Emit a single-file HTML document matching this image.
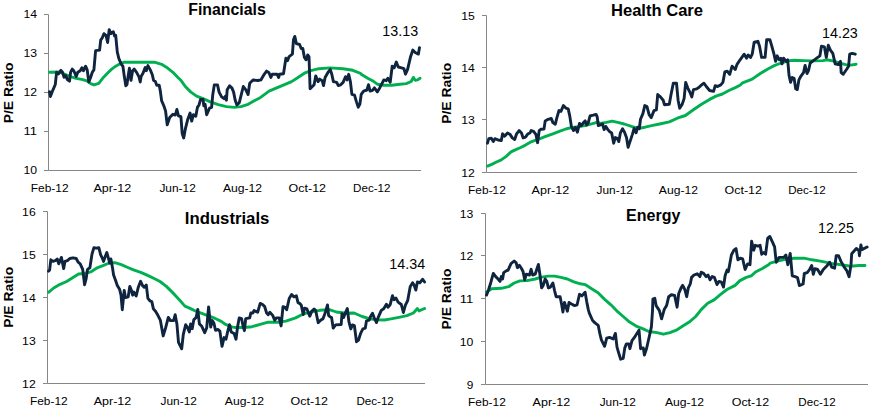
<!DOCTYPE html>
<html><head><meta charset="utf-8"><title>P/E Ratios</title>
<style>html,body{margin:0;padding:0;background:#fff;}svg{display:block;}text{font-family:"Liberation Sans", sans-serif;fill:#000;}</style></head><body>
<svg width="869" height="412" viewBox="0 0 869 412">
<rect x="0" y="0" width="869" height="412" fill="#ffffff"/>
<g>
<path d="M48.5 14.5V170.5H421.0" fill="none" stroke="#868686" stroke-width="1"/>
<path d="M44.0 14.5H48.5" stroke="#868686" stroke-width="1"/>
<text x="37.0" y="18.0" font-size="11.5" text-anchor="end" textLength="13.6" lengthAdjust="spacingAndGlyphs">14</text>
<path d="M44.0 53.5H48.5" stroke="#868686" stroke-width="1"/>
<text x="37.0" y="57.0" font-size="11.5" text-anchor="end" textLength="13.6" lengthAdjust="spacingAndGlyphs">13</text>
<path d="M44.0 92.5H48.5" stroke="#868686" stroke-width="1"/>
<text x="37.0" y="96.0" font-size="11.5" text-anchor="end" textLength="13.6" lengthAdjust="spacingAndGlyphs">12</text>
<path d="M44.0 131.5H48.5" stroke="#868686" stroke-width="1"/>
<text x="37.0" y="135.0" font-size="11.5" text-anchor="end" textLength="13.6" lengthAdjust="spacingAndGlyphs">11</text>
<path d="M44.0 170.5H48.5" stroke="#868686" stroke-width="1"/>
<text x="37.0" y="174.0" font-size="11.5" text-anchor="end" textLength="13.6" lengthAdjust="spacingAndGlyphs">10</text>
<text x="49.7" y="191.7" font-size="11.5" text-anchor="middle" textLength="37.7" lengthAdjust="spacingAndGlyphs">Feb-12</text>
<text x="112.3" y="191.7" font-size="11.5" text-anchor="middle" textLength="37.7" lengthAdjust="spacingAndGlyphs">Apr-12</text>
<text x="177.6" y="191.7" font-size="11.5" text-anchor="middle" textLength="36.3" lengthAdjust="spacingAndGlyphs">Jun-12</text>
<text x="242.5" y="191.7" font-size="11.5" text-anchor="middle" textLength="39.2" lengthAdjust="spacingAndGlyphs">Aug-12</text>
<text x="307.3" y="191.7" font-size="11.5" text-anchor="middle" textLength="37.4" lengthAdjust="spacingAndGlyphs">Oct-12</text>
<text x="371.8" y="191.7" font-size="11.5" text-anchor="middle" textLength="37.4" lengthAdjust="spacingAndGlyphs">Dec-12</text>
<text x="227.0" y="14.7" font-size="16" font-weight="bold" text-anchor="middle" textLength="77.5" lengthAdjust="spacingAndGlyphs">Financials</text>
<text transform="translate(13.2 92.9) rotate(-90)" font-size="13.5" font-weight="bold" text-anchor="middle" textLength="60.9" lengthAdjust="spacingAndGlyphs">P/E Ratio</text>
<text x="400.2" y="36.0" font-size="13.9" text-anchor="middle" textLength="35.8" lengthAdjust="spacingAndGlyphs">13.13</text>
<polyline points="49.5,72.3 59.3,72.0 69.8,76.4 76.2,78.3 82.7,79.6 87.5,81.2 90.7,83.6 93.9,84.9 98.8,83.3 103.6,77.2 108.4,72.3 111.7,69.1 115.7,66.2 120.5,63.5 124.6,62.2 140.7,62.2 155.2,62.3 161.6,64.3 166.4,67.2 172.9,72.3 177.7,77.2 181.3,80.8 185.3,86.5 190.9,92.1 196.6,96.1 203.0,98.6 210.3,101.8 218.3,104.7 226.4,106.6 234.4,107.4 240.9,106.6 247.3,104.7 253.8,101.0 260.2,97.7 266.7,92.9 269.0,91.2 280.3,86.4 291.6,81.6 298.0,77.5 304.4,73.2 310.9,70.6 318.9,68.7 330.2,67.9 343.1,68.7 352.8,70.3 360.8,73.5 361.2,74.2 367.7,78.2 372.5,80.7 377.3,84.2 383.8,85.2 391.8,85.2 399.9,84.2 406.3,83.6 411.2,81.5 413.3,77.4 415.2,80.3 417.6,79.9 420.0,78.2" fill="none" stroke="#00B050" stroke-width="2.9" stroke-linejoin="round" stroke-linecap="round"/>
<polyline points="49.5,91.7 50.4,96.6 52.9,90.1 55.3,84.5 56.6,72.4 56.6,72.3 58.5,73.9 60.9,70.4 62.5,72.3 64.1,77.2 65.7,75.6 67.4,79.6 69.5,81.2 70.6,72.3 72.2,69.1 73.8,70.7 76.2,76.4 77.8,72.3 80.2,70.7 81.9,67.8 83.5,70.7 85.6,66.2 87.2,69.9 88.8,82.0 90.7,77.2 92.3,72.3 93.9,69.9 95.6,50.6 99.6,50.1 100.7,40.1 102.3,37.7 103.9,33.7 106.0,35.3 107.6,42.5 109.2,29.6 110.9,33.7 113.3,31.7 114.6,36.1 115.7,35.3 117.3,52.2 118.9,58.6 121.3,64.3 122.9,66.2 124.2,75.6 125.8,85.7 127.0,84.4 128.1,76.4 129.4,68.3 131.0,80.4 132.6,70.7 134.2,69.1 136.6,72.3 139.1,77.2 140.2,82.0 141.1,76.4 143.1,73.1 145.2,67.5 146.3,70.7 147.9,65.6 150.3,69.9 152.3,74.7 153.6,80.5 155.2,81.3 156.8,85.3 159.2,85.3 160.3,90.9 161.6,100.6 164.0,106.2 165.6,111.1 167.2,124.8 169.7,117.5 172.9,114.3 175.3,115.1 176.9,109.5 178.5,115.9 180.9,116.7 182.2,133.6 183.7,138.0 185.3,129.2 187.7,119.5 190.1,113.1 191.7,121.1 193.4,114.7 195.8,116.3 197.4,107.4 199.0,105.0 200.6,99.4 203.0,99.4 203.8,105.8 205.1,104.2 206.7,114.7 209.5,108.2 211.6,107.4 212.7,95.3 214.3,84.9 217.5,84.9 219.1,92.1 221.6,96.9 224.0,98.6 225.6,96.1 226.4,100.2 227.2,89.7 229.6,85.7 232.0,88.1 233.6,92.1 235.2,100.2 236.9,105.0 239.3,102.6 240.9,96.1 243.3,86.5 245.7,89.7 248.1,94.5 249.7,83.2 253.0,80.0 257.8,80.5 260.9,79.9 264.2,74.3 266.6,71.1 269.0,72.7 270.9,77.5 272.2,74.3 277.1,74.3 278.7,77.5 279.5,74.3 283.5,73.8 285.9,58.2 287.5,60.6 289.1,56.6 292.4,54.2 293.5,39.7 294.8,36.4 296.4,43.7 299.6,44.5 301.2,48.5 302.8,48.5 304.4,57.4 306.1,59.8 307.7,55.0 309.0,56.6 310.1,88.8 314.1,84.8 315.7,75.9 318.1,81.6 319.7,79.1 322.2,80.7 323.5,85.6 325.1,77.5 327.8,72.7 330.2,69.5 331.8,74.3 333.4,81.6 336.7,82.4 338.3,85.6 340.7,84.8 343.1,82.4 345.5,76.7 347.1,79.9 348.7,74.3 350.4,81.6 351.9,94.4 354.5,95.2 356.4,101.6 358.3,107.2 359.9,104.0 361.2,94.4 363.6,91.1 366.9,90.0 368.5,84.7 370.1,91.1 372.5,90.3 374.4,87.9 377.3,91.9 379.7,87.9 382.2,83.1 383.8,79.9 386.2,80.7 387.8,78.2 390.2,82.3 392.2,66.2 394.2,67.8 396.3,62.1 398.3,67.0 401.5,67.8 403.9,68.6 405.5,74.2 407.6,69.4 410.4,57.3 412.8,50.1 415.2,52.5 418.4,54.1 419.5,47.6" fill="none" stroke="#0F243E" stroke-width="2.9" stroke-linejoin="round" stroke-linecap="round"/>
</g>
<g>
<path d="M486.5 15.5V172.5H857.0" fill="none" stroke="#868686" stroke-width="1"/>
<path d="M482.0 15.5H486.5" stroke="#868686" stroke-width="1"/>
<text x="474.8" y="19.8" font-size="11.5" text-anchor="end" textLength="13.6" lengthAdjust="spacingAndGlyphs">15</text>
<path d="M482.0 67.5H486.5" stroke="#868686" stroke-width="1"/>
<text x="474.8" y="71.8" font-size="11.5" text-anchor="end" textLength="13.6" lengthAdjust="spacingAndGlyphs">14</text>
<path d="M482.0 119.5H486.5" stroke="#868686" stroke-width="1"/>
<text x="474.8" y="123.8" font-size="11.5" text-anchor="end" textLength="13.6" lengthAdjust="spacingAndGlyphs">13</text>
<path d="M482.0 172.5H486.5" stroke="#868686" stroke-width="1"/>
<text x="474.8" y="176.8" font-size="11.5" text-anchor="end" textLength="13.6" lengthAdjust="spacingAndGlyphs">12</text>
<text x="486.9" y="193.8" font-size="11.5" text-anchor="middle" textLength="37.7" lengthAdjust="spacingAndGlyphs">Feb-12</text>
<text x="550.4" y="193.8" font-size="11.5" text-anchor="middle" textLength="37.7" lengthAdjust="spacingAndGlyphs">Apr-12</text>
<text x="614.7" y="193.8" font-size="11.5" text-anchor="middle" textLength="36.3" lengthAdjust="spacingAndGlyphs">Jun-12</text>
<text x="678.4" y="193.8" font-size="11.5" text-anchor="middle" textLength="39.2" lengthAdjust="spacingAndGlyphs">Aug-12</text>
<text x="743.2" y="193.8" font-size="11.5" text-anchor="middle" textLength="37.4" lengthAdjust="spacingAndGlyphs">Oct-12</text>
<text x="806.9" y="193.8" font-size="11.5" text-anchor="middle" textLength="37.4" lengthAdjust="spacingAndGlyphs">Dec-12</text>
<text x="657.0" y="15.5" font-size="16" font-weight="bold" text-anchor="middle" textLength="92.0" lengthAdjust="spacingAndGlyphs">Health Care</text>
<text transform="translate(451.2 93.3) rotate(-90)" font-size="13.5" font-weight="bold" text-anchor="middle" textLength="60.9" lengthAdjust="spacingAndGlyphs">P/E Ratio</text>
<text x="839.9" y="37.9" font-size="13.9" text-anchor="middle" textLength="35.8" lengthAdjust="spacingAndGlyphs">14.23</text>
<polyline points="487.5,166.1 491.7,164.4 496.5,162.0 501.3,159.9 506.2,156.4 511.0,151.9 515.8,149.6 520.7,147.5 525.5,145.1 530.3,142.2 535.2,140.3 540.0,138.7 546.4,136.2 552.9,133.8 559.3,131.4 565.8,129.0 572.2,127.4 578.7,126.6 585.1,125.5 591.6,123.8 598.0,122.2 600.0,123.5 606.4,122.4 612.1,121.1 617.7,122.4 624.2,124.0 632.2,126.7 638.7,128.4 645.1,127.2 651.6,125.6 659.6,124.0 669.3,121.9 677.3,118.2 685.4,115.5 693.4,109.8 701.5,104.2 709.6,99.4 716.0,96.1 722.4,94.0 728.9,90.5 735.3,87.6 740.0,85.3 742.6,82.8 752.2,79.1 760.3,73.5 768.3,68.7 774.8,65.4 781.2,63.0 787.7,60.9 794.1,60.3 803.8,60.6 813.4,60.9 823.1,60.6 826.3,59.8 832.8,60.9 839.2,63.0 845.7,64.6 850.5,65.1 856.1,64.2" fill="none" stroke="#00B050" stroke-width="2.9" stroke-linejoin="round" stroke-linecap="round"/>
<polyline points="487.5,143.2 488.8,138.7 491.3,138.3 493.3,141.6 494.9,138.7 498.1,140.0 501.3,140.6 502.6,133.8 504.6,136.2 507.5,133.0 510.2,134.6 512.3,137.9 514.7,139.5 516.6,133.8 519.1,130.6 521.5,133.0 523.1,137.9 525.5,137.1 527.9,133.8 530.0,133.0 531.1,130.6 533.6,131.4 536.0,134.6 537.6,142.7 539.2,130.6 540.8,129.3 544.0,129.0 545.2,120.9 548.1,119.3 551.3,118.5 552.9,122.6 555.3,124.2 556.9,117.7 559.0,110.5 560.9,111.3 563.4,105.6 565.8,108.1 568.2,108.9 569.8,116.1 571.4,126.6 573.5,130.6 575.4,127.4 577.4,132.2 579.5,123.4 581.1,125.8 583.5,122.6 585.1,120.9 586.7,125.0 588.3,122.6 590.0,116.0 593.2,115.2 596.1,114.4 597.2,116.8 598.3,125.6 600.4,124.8 602.5,124.0 604.1,129.6 605.7,126.4 607.9,129.6 610.0,132.0 611.6,132.8 613.7,143.2 615.3,137.6 617.2,138.4 618.8,141.6 620.4,132.8 622.5,128.8 624.4,132.0 626.5,137.6 628.1,147.3 630.0,141.6 632.4,134.4 634.1,128.5 636.1,132.8 637.7,127.2 639.3,128.8 640.5,119.2 642.9,113.6 644.8,105.6 647.0,106.6 649.1,114.7 651.2,117.6 654.0,110.6 656.4,109.8 657.7,94.5 660.4,96.9 663.2,100.2 664.4,104.7 669.3,104.2 670.9,95.3 673.3,83.2 676.5,83.2 678.1,100.2 679.7,108.2 682.2,104.2 684.1,98.6 685.7,82.4 687.8,88.1 690.2,92.9 691.8,96.9 693.4,89.7 696.7,88.9 699.1,87.3 700.7,85.7 703.9,83.2 706.3,86.5 709.6,90.5 713.6,91.3 715.2,85.7 717.6,86.5 720.8,84.9 722.9,82.4 724.8,71.9 727.2,71.1 729.7,74.3 732.1,66.2 735.3,69.5 736.9,64.6 740.1,59.8 744.2,54.2 746.6,58.2 748.2,55.0 750.6,57.4 752.2,54.2 754.2,42.1 757.9,41.3 759.5,46.1 761.6,57.4 765.1,57.4 766.7,39.7 769.9,39.7 771.6,45.3 774.0,54.2 775.6,61.4 777.2,55.8 779.3,59.8 780.9,58.2 782.0,63.8 783.6,58.2 786.1,61.4 787.7,59.8 789.0,75.1 790.6,82.4 792.2,77.5 794.1,78.3 795.7,88.8 797.3,89.6 798.9,79.9 800.6,76.7 803.5,72.7 805.1,65.4 807.0,73.5 808.6,70.3 810.2,63.0 813.4,60.6 816.7,58.2 819.9,55.8 821.5,46.1 824.4,46.9 826.3,57.4 828.3,45.3 830.4,50.1 832.8,53.4 835.2,63.8 838.4,64.6 840.5,61.4 841.2,72.7 843.2,74.3 846.5,69.5 848.6,66.2 849.7,54.2 852.1,53.4 855.3,54.2" fill="none" stroke="#0F243E" stroke-width="2.9" stroke-linejoin="round" stroke-linecap="round"/>
</g>
<g>
<path d="M47.5 211.5V383.5H425.0" fill="none" stroke="#868686" stroke-width="1"/>
<path d="M43.0 211.5H47.5" stroke="#868686" stroke-width="1"/>
<text x="35.7" y="215.8" font-size="11.5" text-anchor="end" textLength="13.6" lengthAdjust="spacingAndGlyphs">16</text>
<path d="M43.0 254.5H47.5" stroke="#868686" stroke-width="1"/>
<text x="35.7" y="258.8" font-size="11.5" text-anchor="end" textLength="13.6" lengthAdjust="spacingAndGlyphs">15</text>
<path d="M43.0 297.5H47.5" stroke="#868686" stroke-width="1"/>
<text x="35.7" y="301.8" font-size="11.5" text-anchor="end" textLength="13.6" lengthAdjust="spacingAndGlyphs">14</text>
<path d="M43.0 340.5H47.5" stroke="#868686" stroke-width="1"/>
<text x="35.7" y="344.8" font-size="11.5" text-anchor="end" textLength="13.6" lengthAdjust="spacingAndGlyphs">13</text>
<path d="M43.0 383.5H47.5" stroke="#868686" stroke-width="1"/>
<text x="35.7" y="387.8" font-size="11.5" text-anchor="end" textLength="13.6" lengthAdjust="spacingAndGlyphs">12</text>
<text x="48.8" y="404.8" font-size="11.5" text-anchor="middle" textLength="37.7" lengthAdjust="spacingAndGlyphs">Feb-12</text>
<text x="112.5" y="404.8" font-size="11.5" text-anchor="middle" textLength="37.7" lengthAdjust="spacingAndGlyphs">Apr-12</text>
<text x="178.7" y="404.8" font-size="11.5" text-anchor="middle" textLength="36.3" lengthAdjust="spacingAndGlyphs">Jun-12</text>
<text x="244.4" y="404.8" font-size="11.5" text-anchor="middle" textLength="39.2" lengthAdjust="spacingAndGlyphs">Aug-12</text>
<text x="309.3" y="404.8" font-size="11.5" text-anchor="middle" textLength="37.4" lengthAdjust="spacingAndGlyphs">Oct-12</text>
<text x="375.1" y="404.8" font-size="11.5" text-anchor="middle" textLength="37.4" lengthAdjust="spacingAndGlyphs">Dec-12</text>
<text x="227.1" y="223.6" font-size="16" font-weight="bold" text-anchor="middle" textLength="84.5" lengthAdjust="spacingAndGlyphs">Industrials</text>
<text transform="translate(13.2 297.3) rotate(-90)" font-size="13.5" font-weight="bold" text-anchor="middle" textLength="60.9" lengthAdjust="spacingAndGlyphs">P/E Ratio</text>
<text x="407.2" y="269.0" font-size="13.9" text-anchor="middle" textLength="35.8" lengthAdjust="spacingAndGlyphs">14.34</text>
<polyline points="48.5,292.3 53.7,288.0 60.1,284.3 66.6,281.5 73.0,277.5 78.6,274.0 84.3,273.5 90.7,271.9 97.2,267.8 103.6,265.4 109.2,263.0 114.9,262.7 121.3,264.6 127.8,267.5 134.2,270.2 140.7,272.3 147.1,275.1 153.6,278.3 160.0,281.5 166.4,286.4 174.4,294.4 179.3,299.7 184.9,306.1 190.6,308.6 195.4,311.0 201.8,313.4 208.3,315.8 214.7,318.2 221.2,321.4 226.0,324.7 232.4,327.1 236.0,327.5 244.1,327.5 252.1,326.7 260.2,324.3 268.2,322.2 277.9,322.2 285.9,321.1 295.6,317.9 303.7,313.8 311.7,311.9 319.8,310.3 327.8,309.8 330.0,309.8 336.4,312.0 346.0,313.3 354.0,313.0 362.1,316.5 370.1,318.9 376.5,319.7 384.5,320.0 390.9,318.9 398.9,317.3 406.9,315.7 413.4,313.0 417.4,308.5 419.0,310.9 424.6,308.5" fill="none" stroke="#00B050" stroke-width="2.9" stroke-linejoin="round" stroke-linecap="round"/>
<polyline points="48.5,271.1 49.6,270.2 50.8,259.8 52.9,261.4 55.3,260.6 57.2,259.0 58.8,263.8 60.1,260.6 61.4,257.4 63.7,268.6 64.9,261.4 67.4,260.6 69.8,258.5 73.0,257.8 76.2,258.5 78.2,262.2 80.2,263.8 82.7,269.4 84.6,284.7 86.2,278.3 87.5,269.4 89.9,267.8 92.0,254.1 93.9,247.7 96.4,248.2 98.8,247.7 100.7,254.9 102.3,258.2 103.6,261.4 105.2,256.6 106.8,252.5 108.4,258.2 109.7,263.0 110.9,259.0 112.5,267.8 113.6,275.1 115.7,280.7 117.3,285.6 119.7,289.6 121.0,295.2 122.3,309.7 124.2,290.4 125.5,297.6 128.2,296.8 129.8,286.4 131.4,290.4 132.6,295.2 133.8,292.0 136.2,296.0 138.3,287.2 140.6,281.3 142.6,285.6 144.2,287.2 146.3,285.1 147.9,298.4 149.9,300.8 151.8,301.6 153.4,308.9 155.5,311.3 157.9,315.3 160.3,320.1 163.2,335.9 165.6,327.9 168.3,317.4 170.4,320.6 173.6,320.6 175.2,314.7 176.9,323.9 178.5,342.4 181.7,348.8 183.3,334.3 185.7,324.7 187.3,327.1 189.3,331.9 190.6,323.9 192.2,328.7 193.8,319.8 196.2,317.4 197.8,309.4 199.4,323.9 201.8,326.3 204.7,332.7 206.7,327.9 208.6,306.9 210.7,327.1 212.3,320.6 213.9,323.1 215.5,330.3 217.9,329.5 219.9,331.1 222.0,346.4 224.1,337.6 226.0,339.2 227.6,331.9 229.5,324.7 231.2,331.9 234.1,333.5 236.0,339.2 237.6,326.7 239.2,317.9 241.6,318.7 243.2,326.7 244.4,330.7 245.7,318.7 249.7,317.9 250.8,313.0 252.9,313.0 254.0,310.6 257.7,312.2 260.2,303.4 262.6,304.5 264.7,306.6 266.6,313.0 268.2,314.6 269.8,312.2 272.7,315.4 274.7,320.3 276.3,317.9 279.2,317.9 281.1,325.9 283.0,306.6 285.1,307.4 286.7,309.8 289.2,298.5 291.6,294.5 294.0,296.9 296.4,295.8 298.0,302.6 299.6,303.4 301.2,305.0 303.3,314.6 304.5,308.2 306.9,309.0 309.8,316.2 311.7,311.4 314.1,309.0 315.7,310.6 318.2,322.7 320.6,320.3 323.0,318.7 325.4,312.2 327.5,305.0 328.6,315.4 330.0,316.8 331.6,317.6 333.2,328.1 335.6,324.9 341.2,324.5 342.0,313.6 343.6,317.6 345.7,312.0 347.3,308.5 348.9,321.6 350.8,328.9 352.4,324.9 354.4,325.7 356.5,341.7 358.5,340.1 360.5,333.7 362.9,328.9 365.3,328.1 366.5,320.8 369.3,320.0 370.4,316.8 372.5,313.3 374.1,317.6 376.5,322.5 378.1,317.6 381.3,310.4 383.7,308.8 386.4,304.3 388.0,307.2 390.1,304.8 392.5,295.7 394.1,299.7 396.0,298.1 398.1,302.1 401.3,304.5 403.4,312.5 405.3,305.3 407.7,300.5 410.2,286.8 412.6,282.8 414.2,285.2 415.8,290.1 417.4,282.0 419.8,282.8 422.7,279.3 424.6,282.0" fill="none" stroke="#0F243E" stroke-width="2.9" stroke-linejoin="round" stroke-linecap="round"/>
</g>
<g>
<path d="M485.5 213.5V384.5H868.0" fill="none" stroke="#868686" stroke-width="1"/>
<path d="M481.0 213.5H485.5" stroke="#868686" stroke-width="1"/>
<text x="473.3" y="217.8" font-size="11.5" text-anchor="end" textLength="13.6" lengthAdjust="spacingAndGlyphs">13</text>
<path d="M481.0 255.5H485.5" stroke="#868686" stroke-width="1"/>
<text x="473.3" y="259.8" font-size="11.5" text-anchor="end" textLength="13.6" lengthAdjust="spacingAndGlyphs">12</text>
<path d="M481.0 298.5H485.5" stroke="#868686" stroke-width="1"/>
<text x="473.3" y="302.8" font-size="11.5" text-anchor="end" textLength="13.6" lengthAdjust="spacingAndGlyphs">11</text>
<path d="M481.0 341.5H485.5" stroke="#868686" stroke-width="1"/>
<text x="473.3" y="345.8" font-size="11.5" text-anchor="end" textLength="13.6" lengthAdjust="spacingAndGlyphs">10</text>
<path d="M481.0 384.5H485.5" stroke="#868686" stroke-width="1"/>
<text x="473.3" y="388.8" font-size="11.5" text-anchor="end" textLength="6.6" lengthAdjust="spacingAndGlyphs">9</text>
<text x="486.9" y="405.9" font-size="11.5" text-anchor="middle" textLength="37.7" lengthAdjust="spacingAndGlyphs">Feb-12</text>
<text x="551.4" y="405.9" font-size="11.5" text-anchor="middle" textLength="37.7" lengthAdjust="spacingAndGlyphs">Apr-12</text>
<text x="617.8" y="405.9" font-size="11.5" text-anchor="middle" textLength="36.3" lengthAdjust="spacingAndGlyphs">Jun-12</text>
<text x="684.5" y="405.9" font-size="11.5" text-anchor="middle" textLength="39.2" lengthAdjust="spacingAndGlyphs">Aug-12</text>
<text x="750.4" y="405.9" font-size="11.5" text-anchor="middle" textLength="37.4" lengthAdjust="spacingAndGlyphs">Oct-12</text>
<text x="817.0" y="405.9" font-size="11.5" text-anchor="middle" textLength="37.4" lengthAdjust="spacingAndGlyphs">Dec-12</text>
<text x="653.2" y="220.7" font-size="16" font-weight="bold" text-anchor="middle" textLength="54.2" lengthAdjust="spacingAndGlyphs">Energy</text>
<text transform="translate(450.7 299.0) rotate(-90)" font-size="13.5" font-weight="bold" text-anchor="middle" textLength="60.9" lengthAdjust="spacingAndGlyphs">P/E Ratio</text>
<text x="836.0" y="233.0" font-size="13.9" text-anchor="middle" textLength="35.8" lengthAdjust="spacingAndGlyphs">12.25</text>
<polyline points="486.5,291.9 491.7,288.7 501.3,288.3 508.6,286.7 514.2,283.0 519.9,280.9 527.1,280.6 535.2,279.0 541.6,277.1 548.1,276.1 554.5,276.1 560.9,277.4 567.4,279.0 573.8,281.9 580.3,283.8 585.1,284.6 591.6,288.7 598.0,292.7 604.4,299.1 610.9,304.8 616.7,310.8 623.2,316.5 629.6,322.1 636.1,326.1 642.5,328.6 648.9,331.5 657.0,332.6 663.4,334.2 669.9,332.6 676.3,330.2 682.8,326.1 689.2,322.1 695.7,316.5 701.2,309.6 707.7,303.2 714.1,299.9 720.6,294.3 727.0,289.5 735.1,285.4 739.9,280.6 746.3,277.4 751.2,275.8 756.0,271.7 762.4,268.5 768.9,264.5 770.1,263.1 776.6,261.4 786.2,259.0 794.3,258.2 803.9,258.2 812.0,259.8 821.7,261.4 831.3,263.4 841.0,264.7 850.7,266.3 858.7,265.5 865.0,265.5" fill="none" stroke="#00B050" stroke-width="2.9" stroke-linejoin="round" stroke-linecap="round"/>
<polyline points="486.5,295.1 488.4,290.3 490.9,282.2 493.3,273.4 495.7,276.6 498.1,279.0 500.0,281.4 501.3,276.6 502.6,279.0 503.7,272.6 506.2,270.9 508.1,270.1 511.0,263.7 514.2,261.0 516.2,262.9 517.4,267.7 519.4,265.3 521.5,268.5 523.1,271.7 524.7,279.8 526.3,274.2 529.5,275.0 531.1,269.3 532.7,275.0 535.2,274.2 536.8,269.3 538.4,264.5 540.0,275.0 541.6,287.9 543.2,285.4 545.2,279.0 546.8,281.4 548.4,287.9 550.5,287.1 552.9,283.0 554.5,290.3 556.1,296.7 560.1,296.7 561.7,304.8 562.9,312.0 564.5,302.4 565.8,306.4 567.4,311.2 569.0,302.4 571.4,304.0 574.6,305.6 577.1,304.8 579.5,294.3 581.9,295.9 585.1,292.2 586.7,301.6 588.3,309.6 589.3,313.2 592.6,320.5 595.0,322.9 598.2,325.3 599.8,333.4 601.4,339.8 604.6,346.3 606.7,338.2 609.5,337.4 613.2,339.0 615.4,333.4 617.0,347.1 619.1,354.3 620.7,359.2 623.2,358.4 624.8,347.9 626.4,343.9 628.8,343.9 629.9,348.7 632.0,340.6 634.4,337.4 636.4,334.2 639.0,330.2 640.6,348.7 643.3,347.9 644.4,355.1 646.5,348.7 648.9,338.2 651.4,326.9 652.5,310.8 652.9,299.1 654.8,298.3 656.1,305.6 659.3,310.4 661.6,318.8 664.2,309.6 666.6,305.6 668.7,296.7 671.4,294.8 674.6,295.4 677.1,307.2 678.7,293.5 681.1,287.9 682.7,285.4 684.8,289.5 686.7,296.7 688.3,287.9 690.3,283.8 691.6,277.4 694.0,275.0 697.2,273.8 699.9,276.6 701.2,272.2 703.6,273.4 706.1,276.6 708.0,275.0 710.1,279.8 712.2,276.6 714.4,277.4 717.0,284.6 718.9,281.4 721.4,282.2 723.5,287.1 725.1,275.8 727.0,270.1 728.3,271.7 729.4,266.1 731.4,255.0 733.9,250.2 736.0,248.6 737.9,259.8 740.3,258.2 742.7,259.0 745.1,269.5 747.6,263.9 750.0,264.7 751.6,241.3 753.7,250.2 755.3,245.3 758.0,246.1 760.1,245.3 761.7,254.2 763.7,252.6 765.6,254.2 767.7,238.1 769.8,236.5 772.5,242.1 774.6,246.9 776.2,262.2 779.0,257.4 783.8,257.4 785.9,255.0 787.8,264.7 790.2,253.4 792.3,275.9 795.1,276.7 797.5,277.6 799.4,285.6 803.1,284.0 804.3,273.5 807.2,272.7 809.6,269.5 811.7,265.5 813.3,274.3 814.9,268.7 817.6,269.5 820.4,274.3 823.3,269.5 826.5,266.3 829.7,262.2 831.7,267.1 834.6,268.2 836.2,255.8 838.6,255.8 841.0,261.4 844.2,267.1 846.6,270.3 849.1,276.7 851.0,264.7 851.7,253.7 856.3,248.5 858.9,250.6 859.4,255.7 860.9,244.9 861.9,249.6 867.1,247.0" fill="none" stroke="#0F243E" stroke-width="2.9" stroke-linejoin="round" stroke-linecap="round"/>
</g>
</svg></body></html>
